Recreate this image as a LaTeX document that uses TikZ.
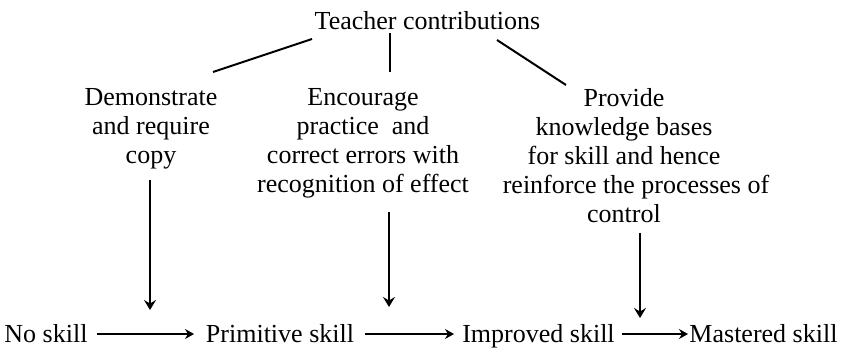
\documentclass[tikz,border=0pt]{standalone}
\usepackage{fontspec}
\setmainfont{Liberation Serif}
\usetikzlibrary{arrows.meta}
\begin{document}
\begin{tikzpicture}[x=1pt,y=-1pt,
  txt/.style={inner sep=0pt, font=\fontsize{26}{29}\selectfont},
  blk/.style={txt, align=center, anchor=north},
  conn/.style={line width=2pt},
  varr/.style={line width=2pt, -{Stealth[length=10pt,width=12pt,inset=3.5pt]}},
  harr/.style={line width=1.6pt, -{Stealth[length=9pt,width=10pt,inset=3pt]}}]
\useasboundingbox (0,0) rectangle (841,358);

% top
\node[txt, anchor=base] (teacher) at (427.5,30) {Teacher contributions};

% three contribution blocks
\node[blk] (demo) at (151,88) {Demonstrate\\and require\\copy};
\node[blk] (enc) at (363,88) {Encourage\\practice\ \ and\\correct errors with\\recognition of effect};
\node[blk] (prov) at (624,88) {Provide\\knowledge bases\hspace*{14pt}\\for skill and hence\hspace*{8pt}\\\hspace*{24pt}reinforce the processes of\\control};

% bottom row
\node[txt, anchor=base] (none) at (46,342) {No skill};
\node[txt, anchor=base] (prim) at (280,342) {Primitive skill};
\node[txt, anchor=base] (impr) at (538.5,342) {Improved skill};
\node[txt, anchor=base] (mast) at (763.5,342) {Mastered skill};

% connector ends
\coordinate (tl) at (312,39);  \coordinate (dl) at (213,72);
\coordinate (tm) at (390,33);  \coordinate (em) at (390,72);
\coordinate (tr) at (497,40);  \coordinate (pr) at (566,85);

\coordinate (da) at (150,180); \coordinate (db) at (150,310);
\coordinate (ea) at (389,212); \coordinate (eb) at (389,307);
\coordinate (pa) at (640,233); \coordinate (pb) at (640,318);

\coordinate (h1a) at (97,334);  \coordinate (h1b) at (194,334);
\coordinate (h2a) at (365,334); \coordinate (h2b) at (454,334);
\coordinate (h3a) at (622,334); \coordinate (h3b) at (688,334);

\draw[conn] (tl) -- (dl);
\draw[conn] (tm) -- (em);
\draw[conn] (tr) -- (pr);

\draw[varr] (da) -- (db);
\draw[varr] (ea) -- (eb);
\draw[varr] (pa) -- (pb);

\draw[harr] (h1a) -- (h1b);
\draw[harr] (h2a) -- (h2b);
\draw[harr] (h3a) -- (h3b);
\end{tikzpicture}
\end{document}
